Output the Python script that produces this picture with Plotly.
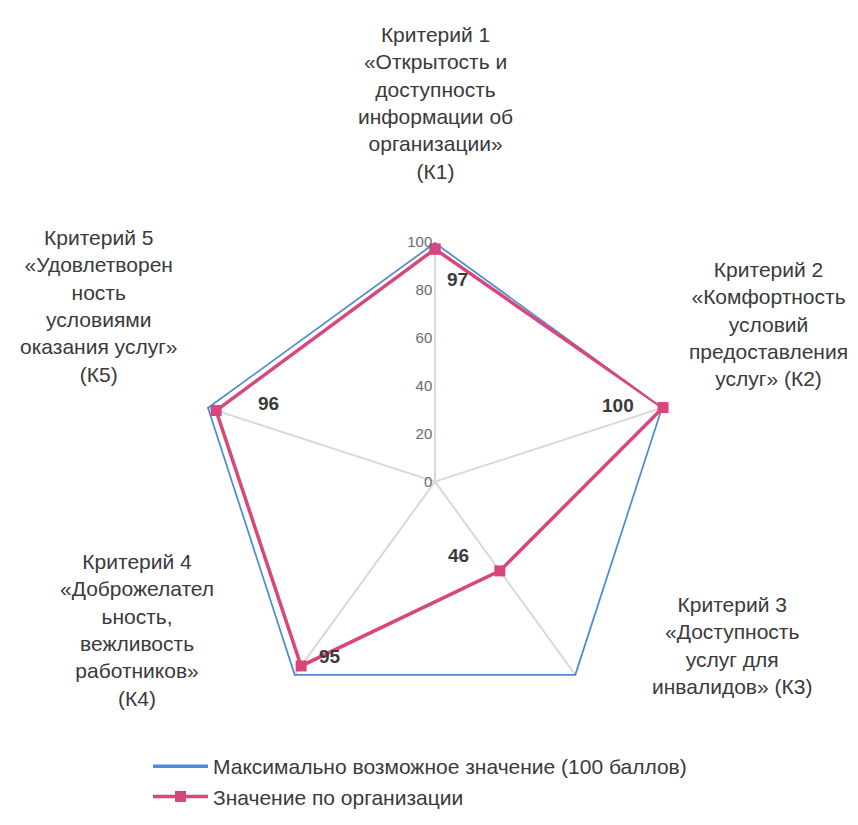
import plotly.graph_objects as go

categories = ["К1", "К2", "К3", "К4", "К5"]
max_values = [100, 100, 100, 100, 100]
org_values = [97, 100, 46, 95, 96]
value_labels = ["97", "100", "46", "95", "96"]
radial_ticks = [0, 20, 40, 60, 80, 100]
category_labels = [
    "Критерий 1<br>«Открытость и<br>доступность<br>информации об<br>организации»<br>(К1)",
    "Критерий 2<br>«Комфортность<br>условий<br>предоставления<br>услуг» (К2)",
    "Критерий 3<br>«Доступность<br>услуг для<br>инвалидов» (К3)",
    "Критерий 4<br>«Доброжелател<br>ьность,<br>вежливость<br>работников»<br>(К4)",
    "Критерий 5<br>«Удовлетворен<br>ность<br>условиями<br>оказания услуг»<br>(К5)",
]
series_names = ["Максимально возможное значение (100 баллов)", "Значение по организации"]

OFF = 8
W, H = 858 - 2 * OFF, 825 - 2 * OFF
dcx, dcy, dR = 435 - OFF, 490 - OFF, 244

fig = go.Figure()
fig.add_trace(go.Scatterpolar(
    r=max_values + max_values[:1], theta=categories + categories[:1],
    mode="lines", name=series_names[0],
    line=dict(color="#4f8bd6", width=3.5),
))
fig.add_trace(go.Scatterpolar(
    r=org_values + org_values[:1], theta=categories + categories[:1],
    mode="lines+markers", name=series_names[1],
    line=dict(color="#d8467c", width=3.5),
    marker=dict(symbol="square", size=11, color="#d8467c"),
))

# page-pixel positions (layout only)
label_pos = [(435, 105), (768, 330), (732, 657), (137, 641), (98, 311)]
value_pos = [(457, 284), (618, 412), (458, 565), (330, 668), (268, 410)]

ann = []
for txt, (x, y) in zip(category_labels, label_pos):
    ann.append(dict(text=txt, x=(x - OFF) / W, y=1 - (y - OFF) / H, xref="paper", yref="paper",
                    showarrow=False, xanchor="center", yanchor="middle",
                    font=dict(family="Liberation Sans", size=21, color="#3a3a3a")))
for txt, (x, y) in zip(value_labels, value_pos):
    ann.append(dict(text="<b>" + txt + "</b>", x=(x - OFF) / W, y=1 - (y - OFF) / H, xref="paper", yref="paper",
                    showarrow=False, xanchor="center", yanchor="middle",
                    font=dict(family="Liberation Sans", size=19, color="#3a3a3a")))

fig.update_layout(
    width=W, height=H,
    margin=dict(l=0, r=0, t=0, b=0),
    paper_bgcolor="white", plot_bgcolor="white",
    polar=dict(
        domain=dict(x=[(dcx - dR) / W, (dcx + dR) / W], y=[1 - (dcy + dR) / H, 1 - (dcy - dR) / H]),
        bgcolor="white",
        gridshape="linear",
        angularaxis=dict(direction="clockwise", rotation=90, showline=False,
                         showticklabels=False, ticks="", showgrid=True,
                         gridcolor="#d9d9d9", gridwidth=1.5),
        radialaxis=dict(range=[0, 100], angle=90, side="counterclockwise", tickangle=90,
                        tickvals=radial_ticks, showgrid=False, showline=False,
                        ticks="", tickfont=dict(family="Liberation Sans", size=15, color="#6a6a6a")),
    ),
    showlegend=True,
    legend=dict(x=140 / W, y=1 - 751 / H, xanchor="left", yanchor="top",
                font=dict(family="Liberation Sans", size=21, color="#3a3a3a"),
                bgcolor="rgba(0,0,0,0)", tracegroupgap=0, itemwidth=55),
    annotations=ann,
)

fig.write_html("out.html")
